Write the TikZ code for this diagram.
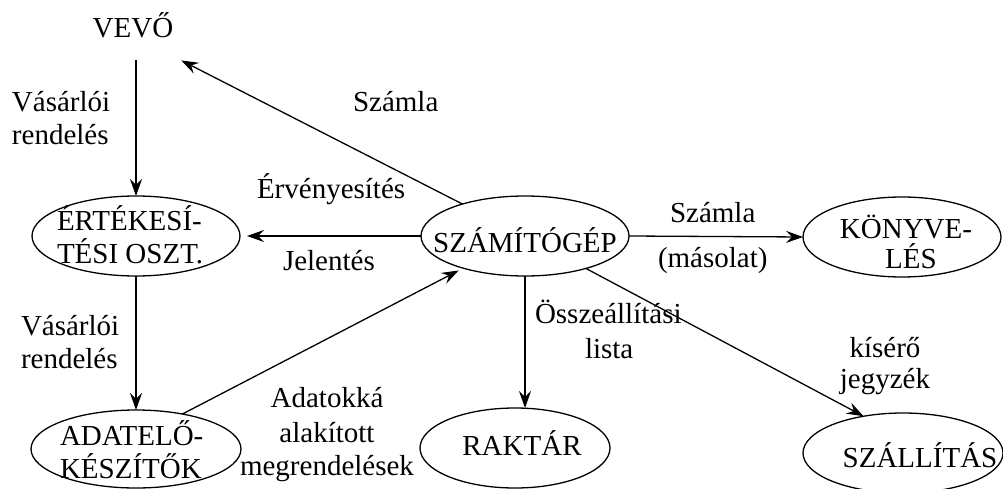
\documentclass[tikz,border=0pt]{standalone}
\usepackage{fontspec}
\setmainfont{Liberation Serif}
\usetikzlibrary{shapes.geometric,arrows.meta}
\begin{document}
\begin{tikzpicture}[x=1pt,y=-1pt,
  every node/.style={font=\fontsize{29}{33}\selectfont, inner sep=0pt, outer sep=0pt},
  lbl/.style={anchor=base west},
  ctr/.style={anchor=base},
  ell/.style={draw, ellipse, line width=1.3pt, outer sep=0pt},
  arr/.style={-{Stealth[length=17pt,width=12pt,inset=6pt]}, line width=1.3pt}]
\useasboundingbox (0,0) rectangle (1003,489);

% departments (ellipses)
\node[ell, minimum width=208pt, minimum height=80pt] (ert)   at (136,236) {};
\node[ell, minimum width=208pt, minimum height=80pt] (szam)  at (525,236) {};
\node[ell, minimum width=198pt, minimum height=80pt] (kon)   at (902,237) {};
\node[ell, minimum width=210pt, minimum height=78pt] (adat)  at (136,449) {};
\node[ell, minimum width=190pt, minimum height=80pt] (rakt)  at (515,448) {};
\node[ell, minimum width=200pt, minimum height=80pt] (szall) at (903,453) {};

% names inside the ellipses
\node[lbl] (ert1) at (57,230) {ÉRTÉKESÍ-};
\node[lbl] (ert2) at (57,263) {TÉSI OSZT.};
\node[ctr] (szamt) at (525,252) {SZÁMÍTÓGÉP};
\node[ctr] (kon1) at (906,238) {KÖNYVE-};
\node[ctr] (kon2) at (911,268) {LÉS};
\node[lbl] (adat1) at (60,445) {ADATELŐ-};
\node[lbl] (adat2) at (60,478) {KÉSZÍTŐK};
\node[ctr] (raktt) at (522,455) {RAKTÁR};
\node[ctr] (szallt) at (920,467) {SZÁLLÍTÁS};

% customer (plain text)
\node[ctr, inner xsep=8pt, inner ysep=22pt] (vevo) at (133,38) {VEVŐ};

% flows
\draw[arr] (vevo.south -| ert.north) -- (ert.north);
\draw[arr] (szam) -- (vevo.south east);
\draw[arr, shorten >=7pt] (szam.west) -- (ert.east);
\draw[arr] (ert.south) -- (adat.north);
\draw[arr, shorten >=5pt] (adat.37) -- (szam);
\draw[arr] (szam.east) -- (kon.west);
\draw[arr] (szam.south) -- (szam.south |- rakt.north);
\draw[arr] (szam) -- (szall.137);

% flow labels
\node[lbl] (l1a) at (12,112) {Vásárlói};
\node[lbl] (l1b) at (12,145) {rendelés};
\node[lbl] (l2) at (353,112) {Számla};
\node[lbl] (l3) at (257,198) {Érvényesítés};
\node[lbl] (l4) at (283,270) {Jelentés};
\node[lbl] (l5a) at (670,222) {Számla};
\node[lbl] (l5b) at (658,267) {(másolat)};
\node[lbl] (l6a) at (21,335) {Vásárlói};
\node[lbl] (l6b) at (21,368) {rendelés};
\node[lbl] (l7a) at (535,323) {Összeállítási};
\node[lbl] (l7b) at (585,358) {lista};
\node[ctr] (l8a) at (885,357) {kísérő};
\node[ctr] (l8b) at (885,388) {jegyzék};
\node[ctr] (l9a) at (327,407) {Adatokká};
\node[ctr] (l9b) at (327,442) {alakított};
\node[ctr] (l9c) at (327,475) {megrendelések};
\end{tikzpicture}
\end{document}
